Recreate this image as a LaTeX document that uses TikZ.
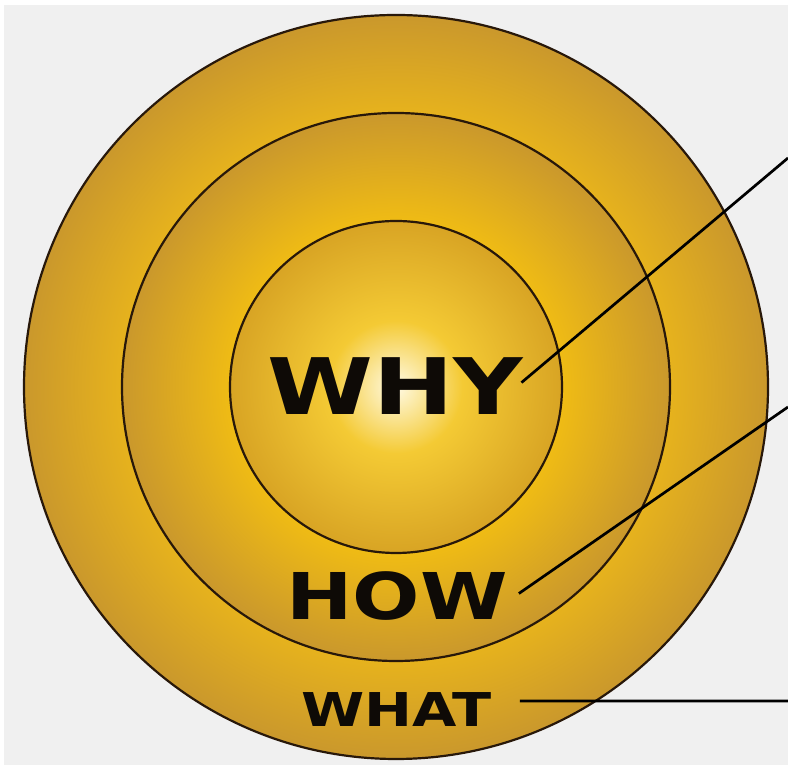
\documentclass[tikz,border=0pt]{standalone}
\usepackage{fontspec}
\newfontfamily\ringfont{DejaVu Sans Bold}[FakeStretch=1.23]
\usetikzlibrary{positioning,calc}

\definecolor{bggray}{RGB}{240,240,240}
\definecolor{rimline}{RGB}{40,24,10}
\definecolor{inktext}{RGB}{14,10,6}
\definecolor{ringdark}{RGB}{202,152,44}
\definecolor{ringlight}{RGB}{232,180,28}
\definecolor{midlight}{RGB}{240,188,20}
\definecolor{coreedge}{RGB}{216,164,36}
\definecolor{coremid}{RGB}{244,202,52}
\definecolor{corelight}{RGB}{255,250,228}

% radial fills, one per circle (25bp = rim of the circle)
\pgfdeclareradialshading{outerfill}{\pgfpointorigin}{%
  color(0bp)=(ringlight); color(18bp)=(ringlight);
  color(25bp)=(ringdark); color(50bp)=(ringdark)}
\pgfdeclareradialshading{middlefill}{\pgfpointorigin}{%
  color(0bp)=(midlight); color(15bp)=(midlight);
  color(25bp)=(ringdark); color(50bp)=(ringdark)}
\pgfdeclareradialshading{corefill}{\pgfpointorigin}{%
  color(0bp)=(corelight); color(10bp)=(coremid);
  color(25bp)=(coreedge); color(50bp)=(coreedge)}

\begin{document}
\begin{tikzpicture}[
    x=1pt, y=1pt,
    ring/.style={draw=rimline, line width=2.2pt},
    word/.style={font=\ringfont, text=inktext, inner sep=0pt, anchor=base},
    leader/.style={draw=black, line width=2.7pt}
]
\useasboundingbox (0,0) rectangle (788,765);
\fill[white] (0,0) rectangle (788,765);
\fill[bggray] (4,0) rectangle (788,760);

% ============================================================
% CIRCLES
% ============================================================
\coordinate (c) at (396,378);
\path[ring, shading=outerfill] (c) circle[radius=372];
\path[ring, shading=middlefill] (c) circle[radius=274];
\path[ring, shading=corefill] (c) circle[radius=166];

% ============================================================
% WORDS
% ============================================================
\node[word, font=\ringfont\fontsize{78}{80}\selectfont] (why) at (395.5,350) {WHY};
\node[word, font=\ringfont\fontsize{64.5}{66}\selectfont] (how) at (397,145) {HOW};
\node[word, font=\ringfont\fontsize{46.6}{48}\selectfont] (what) at (396.5,38) {WHAT};

% ============================================================
% LEADERS
% ============================================================
\coordinate (whytip) at (788,607);
\coordinate (howtip) at (788,358);
\coordinate (whattip) at (788,64);

\draw[leader] ([xshift=-2pt,yshift=4pt]why.east) -- (whytip);
\draw[leader] ([xshift=11pt,yshift=3pt]how.east) -- (howtip);
\draw[leader] ([xshift=28pt,yshift=9pt]what.east) -- (whattip);

\end{tikzpicture}
\end{document}
